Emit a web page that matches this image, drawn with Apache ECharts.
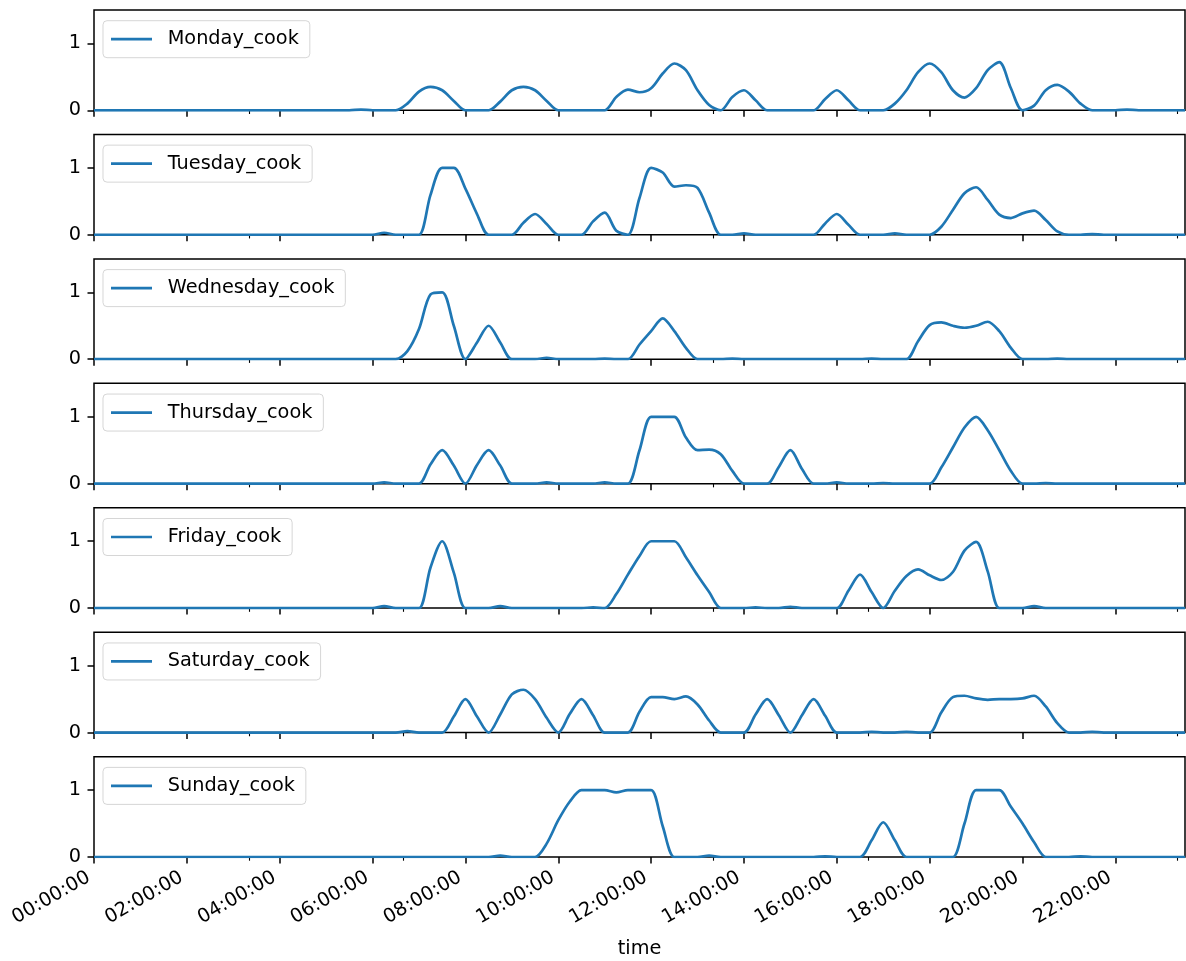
<!DOCTYPE html>
<html>
<head>
<meta charset="utf-8">
<script src="https://cdn.jsdelivr.net/npm/echarts@6/dist/echarts.min.js"></script>
<style>
html,body{margin:0;padding:0;background:#fff;}
#chart{width:1186px;height:961px;}
</style>
</head>
<body>
<div id="chart"></div>
<script>
// ---------------- data ----------------
const seriesNames = ['Monday_cook','Tuesday_cook','Wednesday_cook','Thursday_cook','Friday_cook','Saturday_cook','Sunday_cook'];
// x grid: every 15 minutes from 00:00 to 23:30 (in hours)
const times = Array.from({length: 95}, (_, i) => i / 4);
const majorTickHours = [0, 2, 4, 6, 8, 10, 12, 14, 16, 18, 20, 22];
const minorTickHours = [10/3, 20/3, 40/3, 50/3, 70/3];
const xAxisTitle = 'time';

// values, 4 per hour (:00 :15 :30 :45)
const monday = [
  0,0,0,0, 0,0,0,0, 0,0,0,0, 0,0,0,0, 0,0,0,0, 0,0,0,0.01,
  0,0,0,0.1, 0.28,0.35,0.3,0.14, 0,0,0,0.13, 0.3,0.35,0.3,0.14,
  0,0,0,0, 0,0.2,0.31,0.27, 0.33,0.55,0.7,0.6, 0.3,0.08,0,0.2,
  0.3,0.15,0,0, 0,0,0,0.17, 0.3,0.15,0,0, 0,0.1,0.3,0.57,
  0.7,0.57,0.3,0.19, 0.33,0.6,0.72,0.33, 0,0.07,0.3,0.38, 0.28,0.1,0,0,
  0,0.01,0,0, 0,0,0
];
const tuesday = [
  0,0,0,0, 0,0,0,0, 0,0,0,0, 0,0,0,0, 0,0,0,0, 0,0,0,0,
  0,0.03,0,0, 0,0.6,1,1, 0.69,0.31,0,0, 0,0.18,0.31,0.16,
  0,0,0,0.2, 0.33,0.06,0,0.55, 1,0.93,0.72,0.74, 0.7,0.33,0,0,
  0.02,0,0,0, 0,0,0,0.17, 0.31,0.15,0,0, 0,0.02,0,0,
  0,0.12,0.37,0.62, 0.71,0.52,0.3,0.25, 0.32,0.36,0.22,0.05, 0,0,0.01,0,
  0,0,0,0, 0,0,0
];
const wednesday = [
  0,0,0,0, 0,0,0,0, 0,0,0,0, 0,0,0,0, 0,0,0,0, 0,0,0,0,
  0,0,0,0.12, 0.45,0.97,1,0.5, 0,0.25,0.5,0.25, 0,0,0,0.02,
  0,0,0,0, 0.01,0,0,0.22, 0.42,0.61,0.42,0.17, 0,0,0,0.01,
  0,0,0,0, 0,0,0,0, 0,0,0,0.01, 0,0,0,0.27,
  0.51,0.55,0.5,0.47, 0.5,0.56,0.42,0.17, 0,0,0,0.01, 0,0,0,0,
  0,0,0,0, 0,0,0
];
const thursday = [
  0,0,0,0, 0,0,0,0, 0,0,0,0, 0,0,0,0, 0,0,0,0, 0,0,0,0,
  0,0.02,0,0, 0,0.29,0.5,0.27, 0,0.28,0.5,0.27, 0,0,0,0.02,
  0,0,0,0, 0.02,0,0,0.5, 1,1,1,0.69, 0.5,0.51,0.44,0.19,
  0,0,0,0.25, 0.5,0.22,0,0, 0.02,0,0,0, 0.01,0,0,0,
  0,0.24,0.54,0.84, 1,0.8,0.5,0.19, 0,0,0.01,0, 0,0,0,0,
  0,0,0,0, 0,0,0
];
const friday = [
  0,0,0,0, 0,0,0,0, 0,0,0,0, 0,0,0,0, 0,0,0,0, 0,0,0,0,
  0,0.03,0,0, 0,0.61,1,0.53, 0,0,0,0.03, 0,0,0,0,
  0,0,0,0.01, 0,0.21,0.5,0.78, 1,1,1,0.76, 0.49,0.24,0,0,
  0,0.01,0,0, 0.02,0,0,0, 0,0.26,0.5,0.24, 0,0.26,0.48,0.58,
  0.49,0.42,0.54,0.86, 0.99,0.55,0,0, 0,0.03,0,0, 0,0,0,0,
  0,0,0,0, 0,0,0
];
const saturday = [
  0,0,0,0, 0,0,0,0, 0,0,0,0, 0,0,0,0, 0,0,0,0, 0,0,0,0,
  0,0,0,0.02, 0,0,0,0.24, 0.5,0.24,0,0.27, 0.57,0.64,0.5,0.22,
  0,0.28,0.5,0.26, 0,0,0,0.31, 0.53,0.53,0.5,0.54, 0.42,0.18,0,0,
  0,0.27,0.5,0.26, 0,0.26,0.5,0.25, 0,0,0,0.01, 0,0,0.01,0,
  0,0.3,0.53,0.55, 0.51,0.49,0.5,0.5, 0.51,0.55,0.39,0.14, 0,0,0.01,0,
  0,0,0,0, 0,0,0
];
const sunday = [
  0,0,0,0, 0,0,0,0, 0,0,0,0, 0,0,0,0, 0,0,0,0, 0,0,0,0,
  0,0,0,0, 0,0,0,0, 0,0,0,0.02, 0,0,0,0.2,
  0.55,0.83,1,1, 1,0.965,1,1, 1,0.46,0,0, 0,0.02,0,0,
  0,0,0,0, 0,0,0,0.01, 0,0,0,0.25, 0.52,0.25,0,0,
  0,0,0,0.5, 1,1,1,0.75, 0.5,0.22,0,0, 0,0.01,0,0,
  0,0,0,0, 0,0,0
];
const dayValues = [monday, tuesday, wednesday, thursday, friday, saturday, sunday];

// ---------------- chart ----------------
const FONT = 'DejaVu Sans';
const FS = 19.3;
const LINE = '#1f77b4';
const PANEL_TOP = 10, PANEL_STEP = 124.45, PANEL_H = 100.3;
const pad2 = n => (n < 10 ? '0' : '') + n;

const grids = [], xAxes = [], yAxes = [], series = [], legends = [];
dayValues.forEach((vals, i) => {
  const top = PANEL_TOP + i * PANEL_STEP;
  const last = i === dayValues.length - 1;
  grids.push({left: 94, right: 1, top: top, height: PANEL_H, show: true,
    borderColor: '#000', borderWidth: 1.5, backgroundColor: 'transparent'});
  xAxes.push({
    type: 'value', gridIndex: i, min: 0, max: 23.5, interval: 2,
    axisLine: {show: false}, splitLine: {show: false},
    axisTick: {show: true, customValues: majorTickHours, length: 6.5, lineStyle: {color: '#000', width: 1.5}},
    axisLabel: {show: last, customValues: majorTickHours, rotate: 30, margin: 16, padding: [0, 6, 0, 0],
      fontFamily: FONT, fontSize: FS, color: '#000',
      formatter: v => pad2(Math.round(v)) + ':00:00'},
    name: last ? xAxisTitle : '', nameLocation: 'middle', nameGap: 82,
    nameTextStyle: {fontFamily: FONT, fontSize: FS, color: '#000'}
  });
  yAxes.push({
    type: 'value', gridIndex: i, min: 0, max: 1.5, interval: 1,
    axisLine: {show: false}, splitLine: {show: false},
    axisTick: {show: true, customValues: [0, 1], length: 6.5, lineStyle: {color: '#000', width: 1.5}},
    axisLabel: {customValues: [0, 1], margin: 13, fontFamily: FONT, fontSize: FS, color: '#000'}
  });
  series.push({
    type: 'line', name: seriesNames[i], xAxisIndex: i, yAxisIndex: i,
    data: times.map((t, k) => [t, vals[k]]),
    smooth: 0.3, symbol: 'none', showSymbol: false,
    lineStyle: {color: LINE, width: 2.7}, itemStyle: {color: LINE},
    z: 3
  });
  legends.push({
    data: [seriesNames[i]], left: 103, top: top + 10.7, orient: 'horizontal',
    icon: 'rect', itemWidth: 41, itemHeight: 2.7, padding: [8, 11, 8, 8], selectedMode: false,
    itemStyle: {color: LINE, borderWidth: 0},
    backgroundColor: 'rgba(255,255,255,0.8)', borderColor: 'rgba(204,204,204,0.8)',
    borderWidth: 1, borderRadius: 4,
    textStyle: {fontFamily: FONT, fontSize: FS, color: '#000', padding: [0, 0, 0, 10.7], lineHeight: 21}
  });
});
// minor ticks (share each panel's bottom edge)
dayValues.forEach((vals, i) => {
  xAxes.push({
    type: 'value', gridIndex: i, min: 0, max: 23.5, position: 'bottom',
    axisLine: {show: false}, splitLine: {show: false}, axisLabel: {show: false},
    axisTick: {show: true, customValues: minorTickHours, length: 3.7, lineStyle: {color: '#000', width: 1.1}}
  });
});

const chart = echarts.init(document.getElementById('chart'), null, {renderer: 'canvas'});
chart.setOption({
  animation: false,
  backgroundColor: '#fff',
  grid: grids, xAxis: xAxes, yAxis: yAxes, series: series, legend: legends
});
</script>
</body>
</html>
